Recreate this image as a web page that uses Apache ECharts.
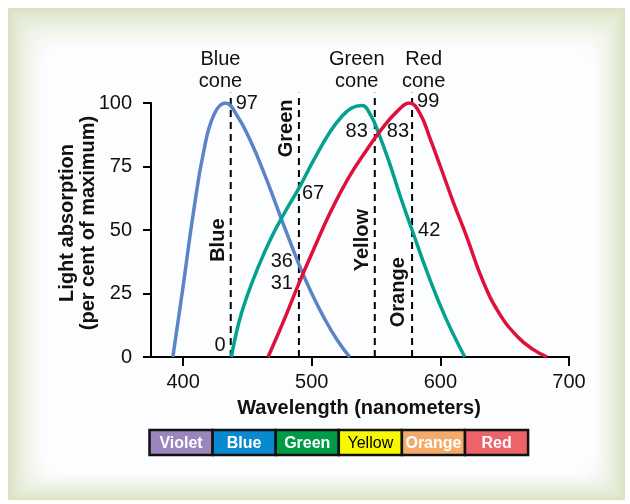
<!DOCTYPE html>
<html>
<head>
<meta charset="utf-8">
<script src="https://cdn.jsdelivr.net/npm/echarts@6/dist/echarts.min.js"></script>
<style>
html,body{margin:0;padding:0;background:#fff;}
#c{width:630px;height:504px;}
</style>
</head>
<body>
<div id="c"></div>
<script>
// ---------- data ----------
const xTicks = [400, 500, 600, 700];
const blueCone = [[392,0],[400,28],[408,57],[416,81],[424,95.5],[433,100],[442,95],[452,85.5],[464,71],[477,53.5],[490,36.5],[500,25],[510,15],[520,6.5],[529.5,0]];
const greenCone = [[437.5,0],[443,13],[449,23],[458,35],[468,46.5],[478,56],[490,66.5],[502,78],[514,88.5],[523,94.5],[531,98],[539,99],[546,95],[552,88],[560,77],[569,63],[578,50],[590,33],[604,15.5],[619,0]];
const redCone = [[466,0],[478,14],[490,29],[502,43],[514,56.5],[528,70],[542,81],[554,89.5],[566,96.5],[576,100],[584,96],[592,86],[600,75],[610,61],[620,48],[633,30],[646,17],[660,8],[672,3],[683,0]];
const markerWl = [437, 490, 549, 578];
const markerTop = 104;
const bandNames = ['Blue', 'Green', 'Yellow', 'Orange'];
const bandLabelVal = [46, 90, 46, 25.5];
const annoText = ['97', '0', '67', '36', '31', '83', '83', '99', '42'];
const annoWl = [437, 437, 490, 490, 490, 549, 578, 578, 578];
const annoVal = [100, 4.7, 64.4, 37.5, 29, 88.8, 88.8, 100.5, 50];
const coneTitles = ['Blue\ncone', 'Green\ncone', 'Red\ncone'];
const coneTitleWl = [429, 535, 587];
const spectrumNames = ['Violet', 'Blue', 'Green', 'Yellow', 'Orange', 'Red'];
const spectrumColors = ['#9b85bd', '#0889d0', '#009b47', '#f8f800', '#f4ab6a', '#ec636a'];
const spectrumText = ['#ffffff', '#ffffff', '#ffffff', '#000000', '#ffffff', '#ffffff'];

// ---------- styles ----------
const FONT = 'Liberation Sans, Arial, Helvetica, sans-serif';
const annoAlign = ['left','right','left','right','right','right','right','left','left'];
const annoDx = [5,-5,3,-6,-6,-7,-3,5,6];
const bandDx = [-12,-12.5,-12,-14];

const chart = echarts.init(document.getElementById('c'), null, {renderer:'canvas'});

const series = [];
markerWl.forEach(function(w){
  series.push({type:'line', data:[[w,0],[w,markerTop]], symbol:'none', clip:false, silent:true, z:1,
    lineStyle:{color:'#000', width:2, type:[7,5]}});
});
[[blueCone,'#5a84c6'],[greenCone,'#03a290'],[redCone,'#e0103c']].forEach(function(p){
  series.push({type:'line', data:p[0], symbol:'none', smooth:0.45, z:3,
    lineStyle:{color:p[1], width:3.5}});
});

chart.setOption({
  animation:false,
  backgroundColor:'#ffffff',
  grid:{left:151, right:61, top:103, bottom:147},
  xAxis:{type:'value', min:375, max:700,
    axisLine:{show:true, onZero:false, lineStyle:{color:'#000', width:2}},
    axisTick:{show:true, customValues:xTicks, length:9, lineStyle:{color:'#000', width:2}},
    axisLabel:{customValues:xTicks, fontSize:20, color:'#111', margin:15, fontFamily:FONT},
    splitLine:{show:false}},
  yAxis:{type:'value', min:0, max:100, interval:25,
    axisLine:{show:true, lineStyle:{color:'#000', width:2}},
    axisTick:{show:true, length:8, lineStyle:{color:'#000', width:2}},
    axisLabel:{fontSize:20, color:'#111', margin:19, fontFamily:FONT},
    splitLine:{show:false}},
  series:series
});

function px(w, v){ return chart.convertToPixel({gridIndex:0}, [w, v]); }

const g = [];
// framed background with soft fade
const N = 36;
const c0 = [217, 226, 193], c1 = [252, 253, 254];
for (let i = 0; i <= N; i++) {
  const t = i / N;
  const e = Math.pow(t, 0.8);
  const col = 'rgb(' + c0.map(function(a, k){ return Math.round(a + (c1[k] - a) * e); }).join(',') + ')';
  const x0 = 8 + t * 34, y0 = 8 + t * 38, x1 = 625 - t * 30, y1 = 500 - t * 26;
  g.push({type:'rect', z:-20, silent:true, shape:{x:x0, y:y0, width:x1 - x0, height:y1 - y0, r:t * 22}, style:{fill:col}});
}

// annotations
annoText.forEach(function(t,i){
  const p = px(annoWl[i], annoVal[i]);
  g.push({type:'text', z:10, x:p[0]+annoDx[i], y:p[1], style:{text:t, font:'20px '+FONT, fill:'#111', align:annoAlign[i], verticalAlign:'middle'}});
});
// band labels (rotated)
bandNames.forEach(function(t,i){
  const p = px(markerWl[i], bandLabelVal[i]);
  g.push({type:'text', z:10, x:p[0]+bandDx[i], y:p[1], rotation:Math.PI/2, style:{text:t, font:'bold 20px '+FONT, fill:'#111', align:'center', verticalAlign:'middle'}});
});
// cone titles
coneTitles.forEach(function(t,i){
  const p = px(coneTitleWl[i], 0);
  g.push({type:'text', z:10, x:p[0], y:70, style:{text:t, font:'20px '+FONT, fill:'#111', align:'center', verticalAlign:'middle', lineHeight:22}});
});
// axis titles
g.push({type:'text', z:10, x:78, y:223, rotation:Math.PI/2, style:{text:'Light absorption\n(per cent of maximum)', font:'bold 20px '+FONT, fill:'#111', align:'center', verticalAlign:'middle', lineHeight:21}});
g.push({type:'text', z:10, x:359, y:408, style:{text:'Wavelength (nanometers)', font:'bold 20px '+FONT, fill:'#111', align:'center', verticalAlign:'middle'}});

// spectrum bar
const barX = 149.5, barY = 430, cellW = 63.1, cellH = 25;
spectrumNames.forEach(function(t,i){
  g.push({type:'rect', z:10, shape:{x:barX+i*cellW, y:barY, width:cellW, height:cellH}, style:{fill:spectrumColors[i], stroke:'#111', lineWidth:2.5}});
  g.push({type:'text', z:11, x:barX+i*cellW+cellW/2, y:barY+cellH/2+1, style:{text:t, font:(t==='Yellow'?'':'bold ')+'16px '+FONT, fill:spectrumText[i], align:'center', verticalAlign:'middle'}});
});

chart.setOption({graphic:g});
</script>
</body>
</html>
